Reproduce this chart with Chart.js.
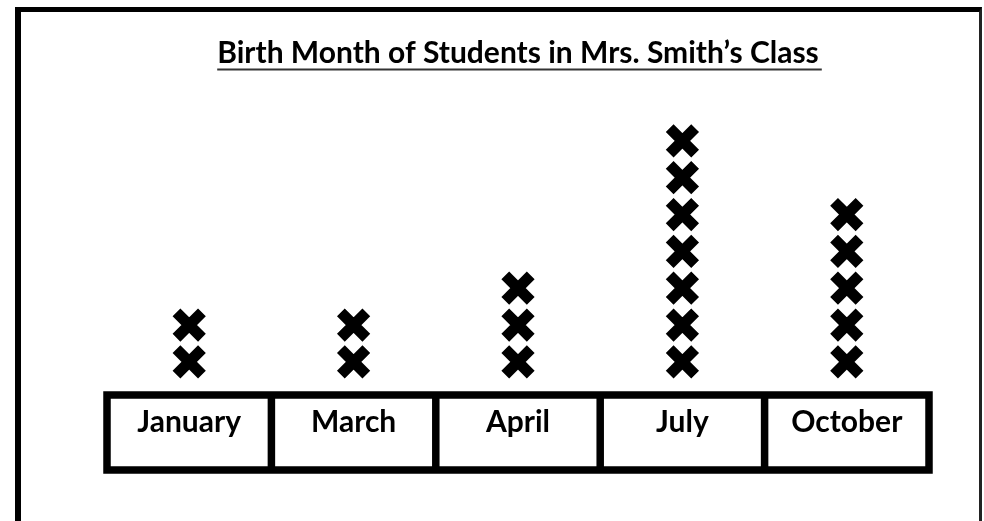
<!DOCTYPE html>
<html>
<head>
<meta charset="utf-8">
<script src="https://cdn.jsdelivr.net/npm/chart.js@4/dist/chart.umd.min.js"></script>
<style>
  html, body { margin: 0; padding: 0; background: #fff; overflow: hidden; }
  #wrap { position: absolute; left: 0; top: 0; width: 984px; height: 521px; }
  #frame {
    position: absolute; left: 15px; top: 7px; width: 958px; height: 600px;
    border-left: 6px solid #000; border-top: 5px solid #000; border-right: 3px solid #222;
  }
  canvas { position: absolute; left: 0; top: 0; }
</style>
</head>
<body>
<div id="wrap">
  <div id="frame"></div>
  <canvas id="chart" width="984" height="521"></canvas>
</div>
<script>
// Line plot: one X per student, stacked above the month box.
const title  = "Birth Month of Students in Mrs. Smith\u2019s Class";
const months = ["January", "March", "April", "July", "October"];
const counts = [2, 2, 3, 7, 5];

const FONT = "Lato, 'Open Sans', sans-serif";
const TITLE_SIZE = 30;
const LABEL_SIZE = 30;
const BOX_TOP = 395;     // centre of the box's top line (= chart area bottom)
const BOX_H = 75;        // top line to bottom line
const LINE_W = 7.5;

// one point per X: y = 1..count in its month
const points = months.flatMap((m, i) =>
  Array.from({ length: counts[i] }, (_, k) => ({ x: m, y: k + 1 })));

// month boxes + title underline
const boxes = {
  id: "boxes",
  afterDraw(c) {
    const { ctx, chartArea: a } = c;
    const n = months.length;
    const w = (a.right - a.left) / n;
    ctx.save();
    ctx.strokeStyle = "#000";
    ctx.lineWidth = LINE_W;
    ctx.lineJoin = "miter";
    ctx.strokeRect(a.left, a.bottom, a.right - a.left, BOX_H);
    ctx.beginPath();
    for (let i = 1; i < n; i++) {
      const x = a.left + i * w;
      ctx.moveTo(x, a.bottom);
      ctx.lineTo(x, a.bottom + BOX_H);
    }
    ctx.stroke();

    // underline under the title
    ctx.font = `bold ${TITLE_SIZE}px ${FONT}`;
    const tw = ctx.measureText(title).width;
    const cx = (c.titleBlock.left + c.titleBlock.right) / 2;
    ctx.strokeStyle = "#333";
    ctx.lineWidth = 2;
    ctx.beginPath();
    ctx.moveTo(cx - tw / 2, 69.5);
    ctx.lineTo(cx + tw / 2 + 3, 69.5);
    ctx.stroke();
    ctx.restore();
  },
};

const lineH = LABEL_SIZE * 1.2;
const tickPad = 9.5;
const titleH = TITLE_SIZE * 1.2;
const padTop = 35;

new Chart(document.getElementById("chart"), {
  type: "scatter",
  data: {
    datasets: [{
      data: points,
      pointStyle: "crossRot",
      pointRadius: 18,
      pointHoverRadius: 18,
      pointBorderWidth: 11,
      pointHoverBorderWidth: 11,
      borderColor: "#000",
      backgroundColor: "#000",
    }],
  },
  options: {
    responsive: false,
    animation: false,
    events: [],
    layout: {
      // x axis height = 2 * tick padding + label line height
      padding: { left: 107, right: 55, top: padTop, bottom: 521 - BOX_TOP - 2 * tickPad - lineH },
    },
    plugins: {
      legend: { display: false },
      tooltip: { enabled: false },
      title: {
        display: true,
        text: title,
        color: "#000",
        font: { family: FONT, size: TITLE_SIZE, weight: "bold" },
        padding: { top: 0, bottom: 85.6 - padTop - titleH },
      },
    },
    scales: {
      x: {
        type: "category",
        labels: months,
        offset: true,
        grid: { display: false, drawTicks: false },
        border: { display: false },
        ticks: {
          color: "#000",
          padding: tickPad,
          autoSkip: false,
          maxRotation: 0,
          font: { family: FONT, size: LABEL_SIZE, weight: "bold" },
        },
      },
      y: {
        display: false,
        min: 0.1,
        max: 8.5,
      },
    },
  },
  plugins: [boxes],
});
</script>
</body>
</html>
